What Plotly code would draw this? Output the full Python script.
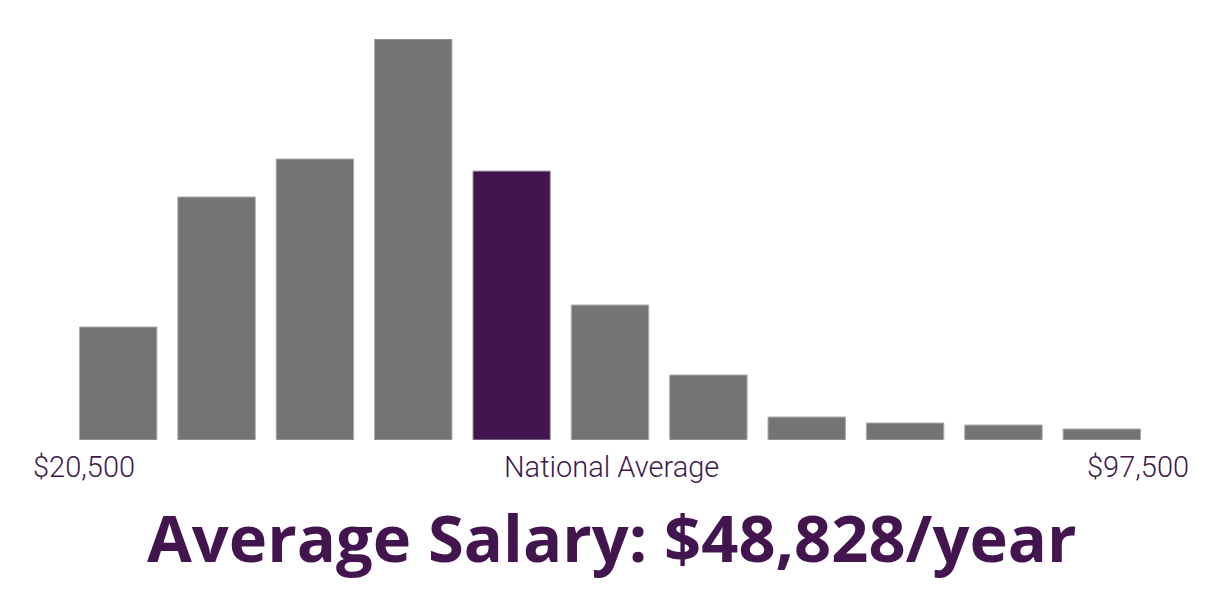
import plotly.graph_objects as go

# Data (relative bar heights)
bins = ["b1", "b2", "b3", "b4", "b5", "b6", "b7", "b8", "b9", "b10", "b11"]
counts = [113, 243, 281, 401, 269, 135, 65, 23, 17, 15, 11]
highlight_index = 4  # National Average bin
low_label = "$20,500"
mid_label = "National Average"
high_label = "$97,500"
title_text = "Average Salary: $48,828/year"

GRAY = "#737476"
PURPLE = "#43154f"
TEXT = "#3f1a4a"

colors = [PURPLE if i == highlight_index else GRAY for i in range(len(bins))]

fig = go.Figure(go.Bar(
    x=list(range(len(bins))),
    y=counts,
    marker=dict(color=colors, line=dict(color="#ababab", width=1)),
    hoverinfo="skip",
))

W, H = 1222, 600
L, R, T, B = 69, 71, 39, 160
pw = W - L - R
ph = H - T - B

def px_x(px):
    return (px - L) / pw

def px_y(py):
    return (H - B - py) / ph

label_font = dict(family="Roboto, Lato, sans-serif", size=29, color=TEXT, weight=300)

fig.add_annotation(text=low_label, x=px_x(31), y=px_y(467), xref="paper", yref="paper",
                   xanchor="left", yanchor="middle", showarrow=False, font=label_font)
fig.add_annotation(text=mid_label, x=px_x(611), y=px_y(467), xref="paper", yref="paper",
                   xanchor="center", yanchor="middle", showarrow=False, font=label_font)
fig.add_annotation(text=high_label, x=px_x(1191), y=px_y(467), xref="paper", yref="paper",
                   xanchor="right", yanchor="middle", showarrow=False, font=label_font)
fig.add_annotation(text="<b>" + title_text + "</b>", x=px_x(611.5), y=px_y(537), xref="paper", yref="paper",
                   xanchor="center", yanchor="middle", showarrow=False,
                   font=dict(family="Open Sans, sans-serif", size=65, color=PURPLE))

fig.update_layout(
    width=W, height=H,
    margin=dict(l=L, r=R, t=T, b=B),
    paper_bgcolor="white", plot_bgcolor="white",
    bargap=0.213,
    showlegend=False,
    xaxis=dict(range=[-0.5, len(bins) - 0.5], visible=False, fixedrange=True),
    yaxis=dict(range=[0, max(counts)], visible=False, fixedrange=True),
)

fig.write_html("out.html", config={"displayModeBar": False})
